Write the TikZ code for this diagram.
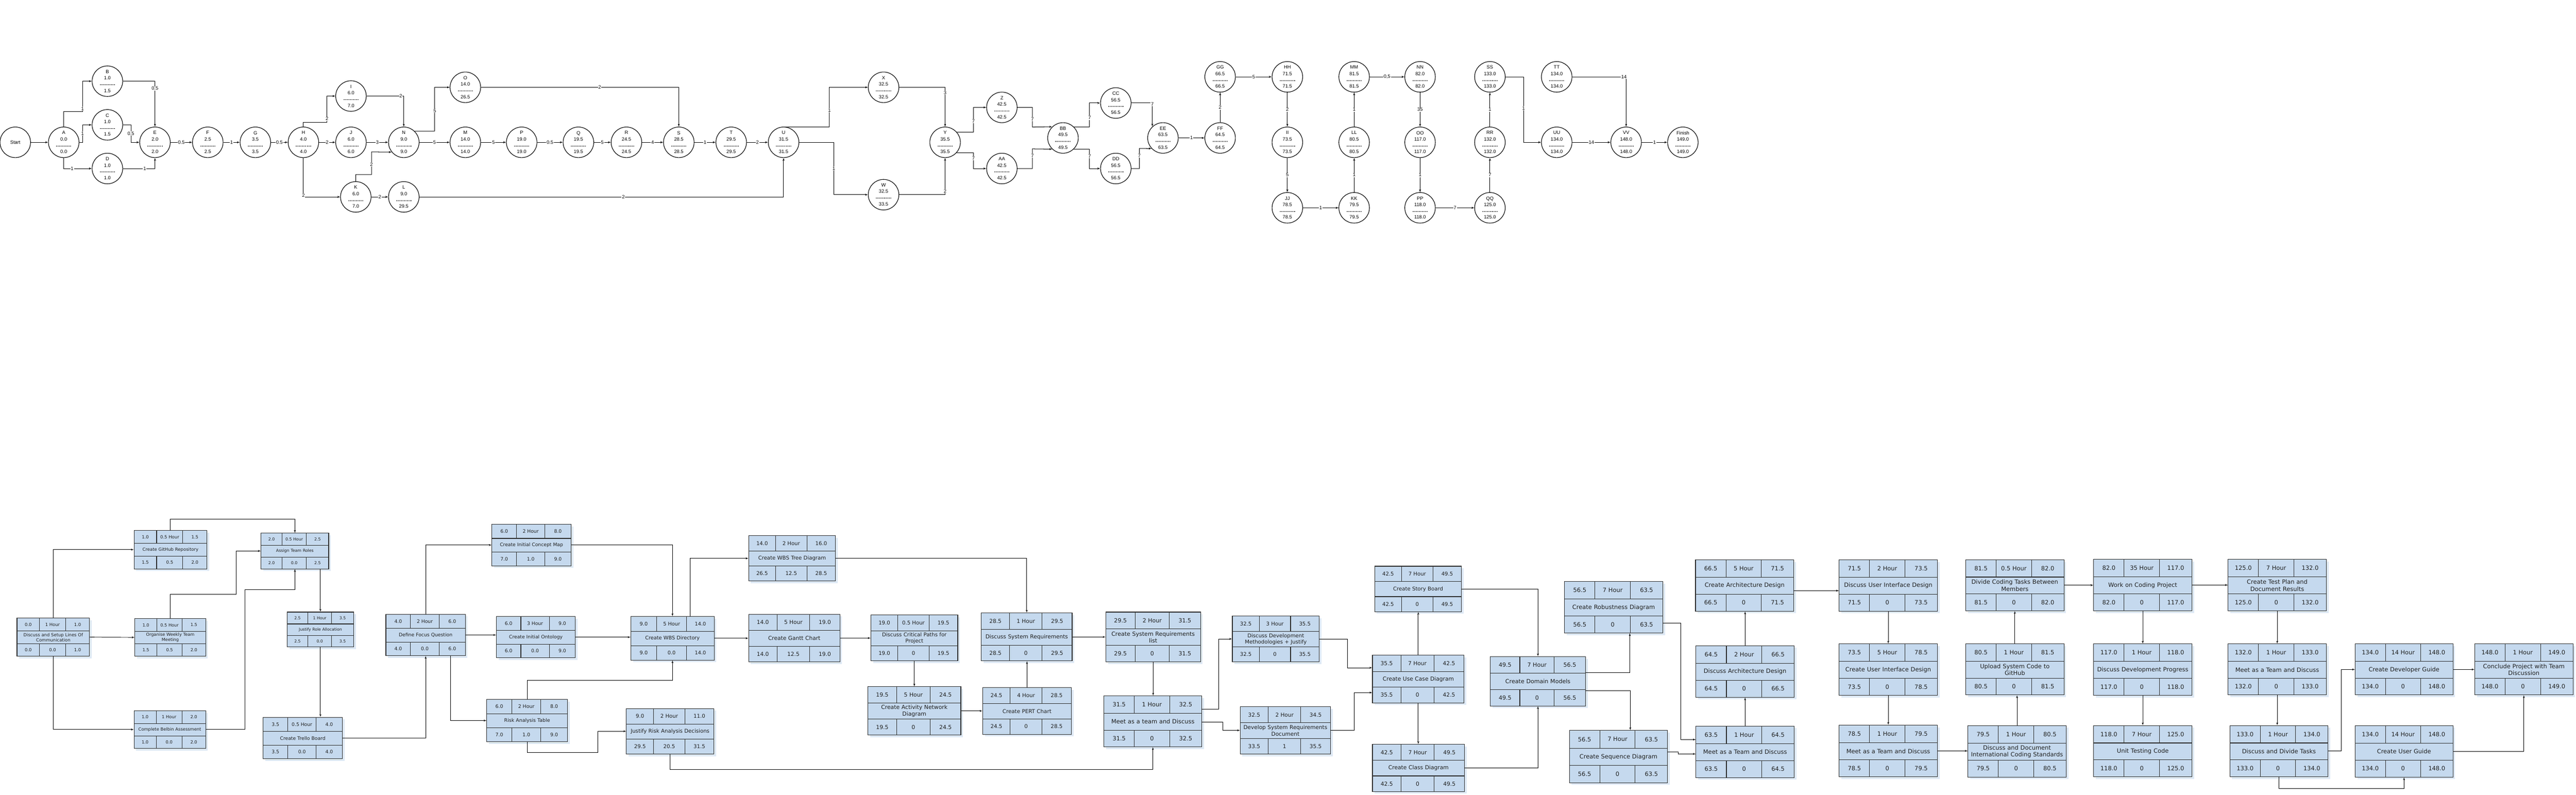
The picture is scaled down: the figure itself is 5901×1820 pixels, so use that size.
\documentclass[tikz,border=0pt]{standalone}
\usepackage{fontspec}
\setmainfont{Liberation Sans}
\newfontfamily\boxfont{DejaVu Sans}
\usepackage{tikz}
\usetikzlibrary{shapes, arrows, shadows}

\definecolor{boxfill}{RGB}{197,217,238}
\definecolor{boxshade}{RGB}{222,233,245}
\definecolor{boxline}{RGB}{45,45,45}
\definecolor{textgray}{RGB}{30,30,30}

\tikzstyle{event} = [circle, draw, line width=1.3pt, fill=white, minimum size=70pt, inner sep=0pt, align=center, font=\fontsize{11}{14.5}\selectfont]
\tikzstyle{wlabel} = [fill=white, inner sep=1pt, font=\fontsize{11}{13}\selectfont]
\tikzstyle{line} = [draw, -latex', line width=1.2pt]
\tikzstyle{link} = [draw, -latex', line width=1.1pt]
\tikzstyle{taskbox} = [rectangle, draw=boxline, fill=boxfill, line width=1.3pt, inner sep=0pt, general shadow={fill=boxshade, shadow xshift=5pt, shadow yshift=-5pt}]
\tikzstyle{cellline} = [draw=boxline, line width=1.3pt]
\tikzstyle{celltext} = [inner sep=0pt, text=textgray, font=\boxfont\fontsize{\fs}{\fl}\selectfont]

% dashed rule between earliest and latest time
\newcommand{\dashrule}{\hbox to 36pt{\leaders\hbox to 3.6pt{\hss\rule[2.6pt]{2.4pt}{0.8pt}\hss}\hfill}}
% event: name, x, y, label, earliest, latest
\newcommand{\evnode}[6]{\node [event] (#1) at (#2,#3) {#4\\#5\\\dashrule\\#6};}
% task: name, x1, y1, x2, y2, title, es/duration/ef, ls/slack/lf
\newcommand{\task}[8]{%
  \pgfmathsetmacro\bw{#4-#2}\pgfmathsetmacro\bh{#5-#3}%
  \pgfmathsetmacro\fs{0.06*\bw}\pgfmathsetmacro\fl{1.2*\fs}\pgfmathsetmacro\tw{\bw-2}%
  \pgfmathsetmacro\ra{#3+0.34*\bh}\pgfmathsetmacro\rb{#3+0.67*\bh}%
  \pgfmathsetmacro\ca{#2+0.31*\bw}\pgfmathsetmacro\cb{#2+0.67*\bw}%
  \node [taskbox, minimum width=\bw pt, minimum height=\bh pt] (#1) at ({(#2+#4)/2},{(#3+#5)/2}) {};
  \draw [cellline] (#2,\ra) -- (#4,\ra) (#2,\rb) -- (#4,\rb) (\ca,#3) -- (\ca,\ra) (\cb,#3) -- (\cb,\ra) (\ca,\rb) -- (\ca,#5) (\cb,\rb) -- (\cb,#5);
  \node [celltext, text width=\tw pt, align=center] (#1-title) at ({(#2+#4)/2},{(\ra+\rb)/2}) {#6};
  \foreach \a/\b/\c/\p/\q [count=\r] in {#7/#3/\ra, #8/\rb/#5} {
    \node [celltext] (#1-\r a) at ({(#2+\ca)/2},{(\p+\q)/2}) {\a};
    \node [celltext] (#1-\r b) at ({(\ca+\cb)/2},{(\p+\q)/2}) {\b};
    \node [celltext] (#1-\r c) at ({(\cb+#4)/2},{(\p+\q)/2}) {\c};
  }%
}

\begin{document}
\begin{tikzpicture}[x=1pt, y=-1pt]
	\useasboundingbox (0,0) rectangle (5901,1820);
	\fill [white] (0,0) rectangle (5901,1820);

	% Place events
	\node [event] (Start) at (35,326) {Start};
	\evnode{A}{146}{326}{A}{0.0}{0.0}
	\evnode{B}{246}{186}{B}{1.0}{1.5}
	\evnode{C}{246}{286}{C}{1.0}{1.5}
	\evnode{D}{246}{386}{D}{1.0}{1.0}
	\evnode{E}{355}{326}{E}{2.0}{2.0}
	\evnode{F}{476}{326}{F}{2.5}{2.5}
	\evnode{G}{585}{326}{G}{3.5}{3.5}
	\evnode{H}{695}{326}{H}{4.0}{4.0}
	\evnode{I}{804}{220}{I}{6.0}{7.0}
	\evnode{J}{804}{326}{J}{6.0}{6.0}
	\evnode{K}{815}{451}{K}{6.0}{7.0}
	\evnode{L}{925}{451}{L}{9.0}{29.5}
	\evnode{N}{925}{326}{N}{9.0}{9.0}
	\evnode{O}{1066}{200}{O}{14.0}{26.5}
	\evnode{M}{1066}{326}{M}{14.0}{14.0}
	\evnode{P}{1195}{326}{P}{19.0}{19.0}
	\evnode{Q}{1325}{326}{Q}{19.5}{19.5}
	\evnode{R}{1435}{326}{R}{24.5}{24.5}
	\evnode{S}{1555}{326}{S}{28.5}{28.5}
	\evnode{T}{1675}{326}{T}{29.5}{29.5}
	\evnode{U}{1795}{326}{U}{31.5}{31.5}
	\evnode{X}{2024}{200}{X}{32.5}{32.5}
	\evnode{W}{2024}{446}{W}{32.5}{33.5}
	\evnode{Y}{2165}{326}{Y}{35.5}{35.5}
	\evnode{Z}{2295}{246}{Z}{42.5}{42.5}
	\evnode{AA}{2295}{386}{AA}{42.5}{42.5}
	\evnode{BB}{2435}{316}{BB}{49.5}{49.5}
	\evnode{CC}{2556}{236}{CC}{56.5}{56.5}
	\evnode{DD}{2556}{386}{DD}{56.5}{56.5}
	\evnode{EE}{2664}{316}{EE}{63.5}{63.5}
	\evnode{FF}{2795}{316}{FF}{64.5}{64.5}
	\evnode{GG}{2795}{176}{GG}{66.5}{66.5}
	\evnode{HH}{2949}{176}{HH}{71.5}{71.5}
	\evnode{II}{2949}{326}{II}{73.5}{73.5}
	\evnode{JJ}{2949}{476}{JJ}{78.5}{78.5}
	\evnode{KK}{3102}{476}{KK}{79.5}{79.5}
	\evnode{LL}{3102}{326}{LL}{80.5}{80.5}
	\evnode{MM}{3102}{176}{MM}{81.5}{81.5}
	\evnode{NN}{3253}{176}{NN}{82.0}{82.0}
	\evnode{OO}{3253}{326}{OO}{117.0}{117.0}
	\evnode{PP}{3253}{476}{PP}{118.0}{118.0}
	\evnode{QQ}{3413}{476}{QQ}{125.0}{125.0}
	\evnode{RR}{3413}{326}{RR}{132.0}{132.0}
	\evnode{SS}{3413}{176}{SS}{133.0}{133.0}
	\evnode{TT}{3566}{176}{TT}{134.0}{134.0}
	\evnode{UU}{3566}{326}{UU}{134.0}{134.0}
	\evnode{VV}{3725}{326}{VV}{148.0}{148.0}
	\evnode{Finish}{3855}{326}{Finish}{149.0}{149.0}

	% Draw activities
	\path [line] (Start) -- (A);
	\path [line] (A.north) |- (189,255) -- node[wlabel, pos=0.08] (lAB) {1} (189,186) -- (B.west);
	\path [line] (A.east) -| node[wlabel, pos=0.75] (lAC) {1} (189,286) -- (C.west);
	\path [line] (A.south) |- node[wlabel, pos=0.65] (lAD) {1} (D.west);
	\path [line] (B.east) -| node[wlabel, pos=0.58] (lBE) {0.5} (E.north);
	\path [line] (C.east) -| node[wlabel, pos=0.75] (lCE) {0.5} (300,326) -- (E.west);
	\path [line] (D.east) -| node[wlabel, pos=0.34] (lDE) {1} (E.south);
	\path [line] (E) -- node[wlabel] (lEF) {0.5} (F);
	\path [line] (F) -- node[wlabel] (lFG) {1} (G);
	\path [line] (G) -- node[wlabel] (lGH) {0.5} (H);
	\path [line] (H.north) |- (749,280) -- node[wlabel, pos=0.13] (lHI) {2} (749,220) -- (I.west);
	\path [line] (H) -- node[wlabel] (lHJ) {2} (J);
	\path [line] (H.south) |- node[wlabel, pos=0.48] (lHK) {2} (K.west);
	\path [line] (I.east) -| node[wlabel, pos=0.46] (lIN) {2} (N.north);
	\path [line] (J) -- node[wlabel] (lJN) {3} (N);
	\path [line] (K.north) |- (851,400) -- node[wlabel, pos=0.45] (lKN) {2} (851,348) -- (N.219);
	\path [line] (K) -- node[wlabel] (lKL) {2} (L);
	\path [line] (N.46) -| node[wlabel, pos=0.73] (lNO) {5} (996,200) -- (O.west);
	\path [line] (N) -- node[wlabel] (lNM) {5} (M);
	\path [line] (O.east) -| node[wlabel, pos=0.3] (lOS) {2} (S.north);
	\path [line] (M) -- node[wlabel] (lMP) {5} (P);
	\path [line] (P) -- node[wlabel] (lPQ) {0.5} (Q);
	\path [line] (Q) -- node[wlabel] (lQR) {5} (R);
	\path [line] (R) -- node[wlabel] (lRS) {4} (S);
	\path [line] (S) -- node[wlabel] (lST) {1} (T);
	\path [line] (T) -- node[wlabel] (lTU) {2} (U);
	\path [line] (L.east) -| node[wlabel, pos=0.28] (lLU) {2} (U.south);
	\path [line] (U.north) -| node[wlabel, pos=0.71] (lUX) {1} (1900,200) -- (X.west);
	\path [line] (U.east) -| node[wlabel, pos=0.75] (lUW) {1} (1910,446) -- (W.west);
	\path [line] (X.east) -| node[wlabel, pos=0.57] (lXY) {3} (Y.north);
	\path [line] (W.east) -| node[wlabel, pos=0.55] (lWY) {2} (Y.south);
	\path [line] (Y.42) -| node[wlabel, pos=0.72] (lYZ) {7} (2230,246) -- (Z.west);
	\path [line] (Y.-42) -| node[wlabel, pos=0.67] (lYAA) {7} (2230,386) -- (AA.west);
	\path [line] (Z.east) -| node[wlabel, pos=0.8] (lZBB) {7} (2365,291) -- (BB.134);
	\path [line] (AA.east) -| node[wlabel, pos=0.83] (lAABB) {7} (2365,341) -- (BB.226);
	\path [line] (BB.46) -| node[wlabel, pos=0.69] (lBBCC) {7} (2496,236) -- (CC.west);
	\path [line] (BB.-46) -| node[wlabel, pos=0.68] (lBBDD) {7} (2496,386) -- (DD.west);
	\path [line] (CC.east) -| node[wlabel, pos=0.52] (lCCEE) {7} (EE.133);
	\path [line] (DD.east) -| node[wlabel, pos=0.82] (lDDEE) {7} (2610,340) -- (EE.223);
	\path [line] (EE) -- node[wlabel] (lEEFF) {1} (FF);
	\path [line] (FF) -- node[wlabel] (lFFGG) {2} (GG);
	\path [line] (GG) -- node[wlabel] (lGGHH) {5} (HH);
	\path [line] (HH) -- node[wlabel] (lHHII) {2} (II);
	\path [line] (II) -- node[wlabel] (lIIJJ) {5} (JJ);
	\path [line] (JJ) -- node[wlabel] (lJJKK) {1} (KK);
	\path [line] (KK) -- node[wlabel] (lKKLL) {1} (LL);
	\path [line] (LL) -- node[wlabel] (lLLMM) {1} (MM);
	\path [line] (MM) -- node[wlabel] (lMMNN) {0,5} (NN);
	\path [line] (NN) -- node[wlabel] (lNNOO) {35} (OO);
	\path [line] (OO) -- node[wlabel] (lOOPP) {1} (PP);
	\path [line] (PP) -- node[wlabel] (lPPQQ) {7} (QQ);
	\path [line] (QQ) -- node[wlabel] (lQQRR) {7} (RR);
	\path [line] (RR) -- node[wlabel] (lRRSS) {1} (SS);
	\path [line] (SS.east) -| node[wlabel, pos=0.74] (lSSUU) {1} (3490,326) -- (UU.west);
	\path [line] (TT.east) -| node[wlabel, pos=0.48] (lTTVV) {14} (VV.north);
	\path [line] (UU) -- node[wlabel] (lUUVV) {14} (VV);
	\path [line] (VV) -- node[wlabel] (lVVF) {1} (Finish);

	% Place tasks
	\task{disc}{39}{1416}{205}{1503}{Discuss and Setup Lines Of\\Communication}{0.0/1 Hour/1.0}{0.0/0.0/1.0}
	\task{git}{307}{1215}{474}{1303}{Create GitHub Repository}{1.0/0.5 Hour/1.5}{1.5/0.5/2.0}
	\task{org}{309}{1417}{471}{1503}{Organise Weekly Team\\Meeting}{1.0/0.5 Hour/1.5}{1.5/0.5/2.0}
	\task{bel}{307}{1628}{471}{1714}{Complete Belbin Assessment}{1.0/1 Hour/2.0}{1.0/0.0/2.0}
	\task{roles}{598}{1221}{753}{1303}{Assign Team Roles}{2.0/0.5 Hour/2.5}{2.0/0.0/2.5}
	\task{just}{658}{1402}{810}{1482}{Justify Role Allocation}{2.5/1 Hour/3.5}{2.5/0.0/3.5}
	\task{trello}{603}{1643}{784}{1738}{Create Trello Board}{3.5/0.5 Hour/4.0}{3.5/0.0/4.0}
	\task{focus}{884}{1407}{1066}{1502}{Define Focus Question}{4.0/2 Hour/6.0}{4.0/0.0/6.0}
	\task{cmap}{1127}{1201}{1308}{1296}{Create Initial Concept Map}{6.0/2 Hour/8.0}{7.0/1.0/9.0}
	\task{onto}{1137}{1412}{1318}{1507}{Create Initial Ontology}{6.0/3 Hour/9.0}{6.0/0.0/9.0}
	\task{risk}{1115}{1602}{1300}{1699}{Risk Analysis Table}{6.0/2 Hour/8.0}{7.0/1.0/9.0}
	\task{wbs}{1445}{1412}{1636}{1512}{Create WBS Directory}{9.0/5 Hour/14.0}{9.0/0.0/14.0}
	\task{jrisk}{1435}{1623}{1635}{1727}{Justify Risk Analysis Decisions}{9.0/2 Hour/11.0}{29.5/20.5/31.5}
	\task{tree}{1715}{1227}{1914}{1331}{Create WBS Tree Diagram}{14.0/2 Hour/16.0}{26.5/12.5/28.5}
	\task{gantt}{1715}{1407}{1924}{1516}{Create Gantt Chart}{14.0/5 Hour/19.0}{14.0/12.5/19.0}
	\task{crit}{1995}{1409}{2194}{1514}{Discuss Critical Paths for\\Project}{19.0/0.5 Hour/19.5}{19.0/0/19.5}
	\task{act}{1988}{1573}{2201}{1684}{Create Activity Network\\Diagram}{19.5/5 Hour/24.5}{19.5/0/24.5}
	\task{pert}{2251}{1575}{2454}{1682}{Create PERT Chart}{24.5/4 Hour/28.5}{24.5/0/28.5}
	\task{sysreq}{2248}{1404}{2456}{1514}{Discuss System Requirements}{28.5/1 Hour/29.5}{28.5/0/29.5}
	\task{reqlist}{2533}{1402}{2750}{1516}{Create System Requirements\\list}{29.5/2 Hour/31.5}{29.5/0/31.5}
	\task{meetA}{2529}{1594}{2753}{1711}{Meet as a team and Discuss}{31.5/1 Hour/32.5}{31.5/0/32.5}
	\task{meth}{2823}{1411}{3022}{1516}{Discuss Development\\Methodologies + Justify}{32.5/3 Hour/35.5}{32.5/0/35.5}
	\task{reqdoc}{2841}{1619}{3048}{1727}{Develop System Requirements\\Document}{32.5/2 Hour/34.5}{33.5/1/35.5}
	\task{story}{3149}{1297}{3348}{1401}{Create Story Board}{42.5/7 Hour/49.5}{42.5/0/49.5}
	\task{usecase}{3144}{1501}{3354}{1610}{Create Use Case Diagram}{35.5/7 Hour/42.5}{35.5/0/42.5}
	\task{class}{3144}{1705}{3355}{1813}{Create Class Diagram}{42.5/7 Hour/49.5}{42.5/0/49.5}
	\task{domain}{3414}{1504}{3632}{1617}{Create Domain Models}{49.5/7 Hour/56.5}{49.5/0/56.5}
	\task{robust}{3584}{1332}{3809}{1450}{Create Robustness Diagram}{56.5/7 Hour/63.5}{56.5/0/63.5}
	\task{seq}{3595}{1673}{3820}{1793}{Create Sequence Diagram}{56.5/7 Hour/63.5}{56.5/0/63.5}
	\task{meetB}{3885}{1663}{4110}{1781}{Meet as a Team and Discuss}{63.5/1 Hour/64.5}{63.5/0/64.5}
	\task{darch}{3885}{1479}{4110}{1597}{Discuss Architecture Design}{64.5/2 Hour/66.5}{64.5/0/66.5}
	\task{arch}{3884}{1282}{4109}{1400}{Create Architecture Design}{66.5/5 Hour/71.5}{66.5/0/71.5}
	\task{dui}{4213}{1282}{4438}{1400}{Discuss User Interface Design}{71.5/2 Hour/73.5}{71.5/0/73.5}
	\task{cui}{4213}{1475}{4438}{1593}{Create User Interface Design}{73.5/5 Hour/78.5}{73.5/0/78.5}
	\task{meetC}{4213}{1661}{4438}{1779}{Meet as a Team and Discuss}{78.5/1 Hour/79.5}{78.5/0/79.5}
	\task{stds}{4508}{1662}{4733}{1780}{Discuss and Document\\International Coding Standards}{79.5/1 Hour/80.5}{79.5/0/80.5}
	\task{upload}{4503}{1475}{4728}{1592}{Upload System Code to\\GitHub}{80.5/1 Hour/81.5}{80.5/0/81.5}
	\task{divide}{4503}{1282}{4728}{1399}{Divide Coding Tasks Between\\Members}{81.5/0.5 Hour/82.0}{81.5/0/82.0}
	\task{code}{4796}{1281}{5021}{1399}{Work on Coding Project}{82.0/35 Hour/117.0}{82.0/0/117.0}
	\task{prog}{4796}{1475}{5021}{1593}{Discuss Development Progress}{117.0/1 Hour/118.0}{117.0/0/118.0}
	\task{unit}{4796}{1662}{5021}{1779}{Unit Testing Code}{118.0/7 Hour/125.0}{118.0/0/125.0}
	\task{test}{5104}{1281}{5329}{1399}{Create Test Plan and\\Document Results}{125.0/7 Hour/132.0}{125.0/0/132.0}
	\task{meetD}{5104}{1475}{5329}{1592}{Meet as a Team and Discuss}{132.0/1 Hour/133.0}{132.0/0/133.0}
	\task{tasks}{5108}{1662}{5333}{1779}{Discuss and Divide Tasks}{133.0/1 Hour/134.0}{133.0/0/134.0}
	\task{devg}{5395}{1475}{5619}{1592}{Create Developer Guide}{134.0/14 Hour/148.0}{134.0/0/148.0}
	\task{userg}{5395}{1662}{5619}{1780}{Create User Guide}{134.0/14 Hour/148.0}{134.0/0/148.0}
	\task{concl}{5669}{1475}{5894}{1592}{Conclude Project with Team\\Discussion}{148.0/1 Hour/149.0}{148.0/0/149.0}

	% Draw links
	\path [link] (disc.north) |- (git.west);
	\path [link] (disc.east) -- (org.west);
	\path [link] (disc.south) |- (bel.west);
	\path [link] (git.north) -- ++(0,-25) -| (roles.north);
	\path [link] (org.north) |- (541,1361) |- (roles.west);
	\path [link] (bel.east) -| (561,1351) -| (roles.south);
	\path [link] (just.north |- roles.south) -- (just.north);
	\path [link] (just.south) -- (just.south |- trello.north);
	\path [link] (trello.east) -| (focus.south);
	\path [link] (focus.north) |- (cmap.west);
	\path [link] (focus.east) -- (focus.east -| onto.west);
	\path [link] ([xshift=57pt]focus.south) |- (risk.west);
	\path [link] (cmap.east) -| (wbs.north);
	\path [link] (onto.east) -- (onto.east -| wbs.west);
	\path [link] (risk.north) -- ++(0,-43) -| (wbs.south);
	\path [link] (risk.south) |- (1369,1724) |- (jrisk.west);
	\path [link] ([xshift=40pt]wbs.north) |- (tree.west);
	\path [link] (wbs.east) -- (wbs.east -| gantt.west);
	\path [link] (gantt.east) -- (gantt.east -| crit.west);
	\path [link] (tree.east) -| (sysreq.north);
	\path [link] (crit.south) -- (crit.south |- act.north);
	\path [link] (act.east) -- (act.east -| pert.west);
	\path [link] (pert.north) -- (pert.north |- sysreq.south);
	\path [link] (sysreq.east) -- (sysreq.east -| reqlist.west);
	\path [link] (reqlist.south) -- (reqlist.south |- meetA.north);
	\path [link] (jrisk.south) -- ++(0,35) -| (meetA.south);
	\path [link] ([yshift=28pt]meetA.east) -- ++(38,0) |- (meth.west);
	\path [link] ([yshift=-2pt]meetA.east) -- ++(47,0) |- (reqdoc.west);
	\path [link] (meth.east) -- ++(64,0) |- ([yshift=26pt]usecase.west);
	\path [link] (reqdoc.east) -- ++(53,0) |- ([yshift=-31pt]usecase.west);
	\path [link] (usecase.north) -- (usecase.north |- story.south);
	\path [link] (usecase.south) -- (usecase.south |- class.north);
	\path [link] (story.east) -| (domain.north);
	\path [link] (class.east) -| (domain.south);
	\path [link] ([yshift=20pt]domain.east) -| ([xshift=37pt]robust.south);
	\path [link] ([yshift=-21pt]domain.east) -| ([xshift=27pt]seq.north);
	\path [link] ([yshift=-36pt]robust.east) -- ++(41,0) |- ([yshift=28pt]meetB.west);
	\path [link] ([yshift=11pt]seq.east) -- ++(24,0) |- ([yshift=-5pt]meetB.west);
	\path [link] (meetB.north) -- (meetB.north |- darch.south);
	\path [link] (darch.north) -- (darch.north |- arch.south);
	\path [link] ([yshift=-12pt]arch.east) -- ([yshift=-12pt]arch.east -| dui.west);
	\path [link] (dui.south) -- (dui.south |- cui.north);
	\path [link] (cui.south) -- (cui.south |- meetC.north);
	\path [link] (meetC.east) -- (meetC.east -| stds.west);
	\path [link] (stds.north) -- (stds.north |- upload.south);
	\path [link] (upload.north) -- (upload.north |- divide.south);
	\path [link] (divide.east) -- (divide.east -| code.west);
	\path [link] (code.south) -- (code.south |- prog.north);
	\path [link] (prog.south) -- (prog.south |- unit.north);
	\path [link] (code.east) -- (code.east -| test.west);
	\path [link] (test.south) -- (test.south |- meetD.north);
	\path [link] (meetD.south) -- (meetD.south |- tasks.north);
	\path [link] (tasks.east) -- ++(30,0) |- (devg.west);
	\path [link] (tasks.south) -- ++(0,26) -| (userg.south);
	\path [link] (devg.east) -- (devg.east -| concl.west);
	\path [link] (userg.east) -| (concl.south);

\end{tikzpicture}
\end{document}
